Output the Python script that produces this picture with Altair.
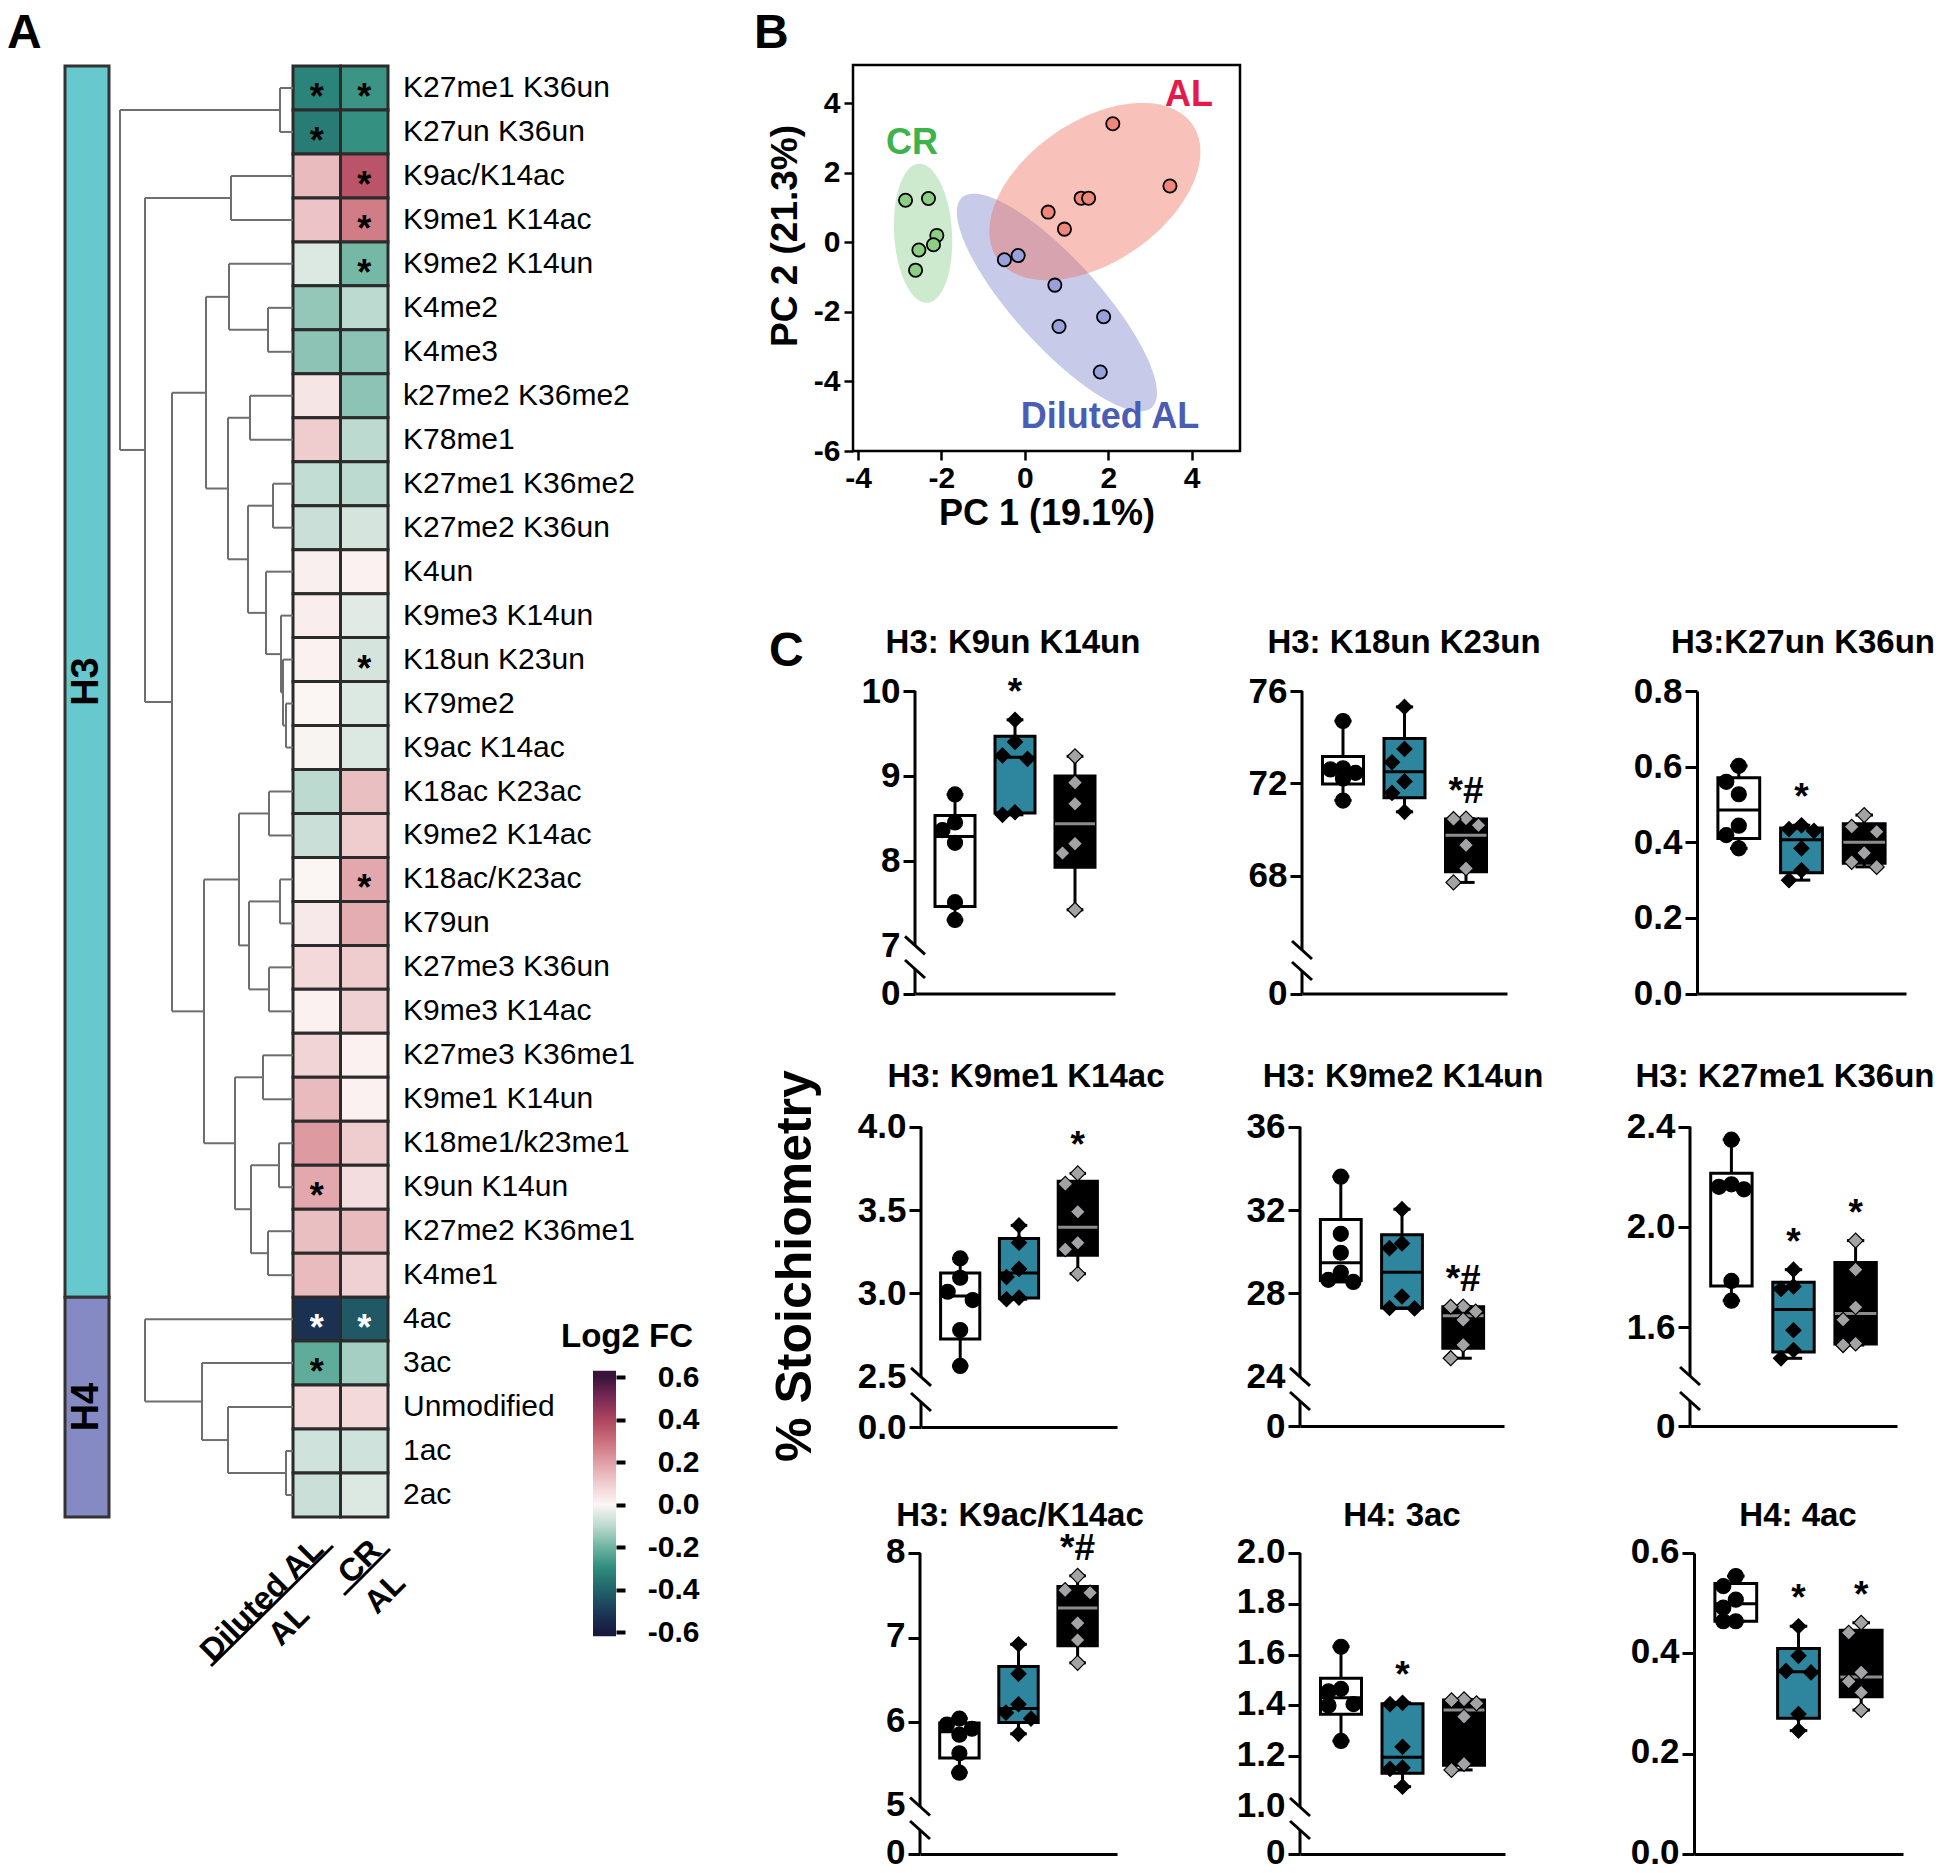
import numpy as np
import pandas as pd
import altair as alt

W, H = 1934, 1857
FONT = "Liberation Sans"


def X(v):
    return v - 8


def Y(v):
    return v - 8


# ======================= DATA =======================
# ---- Panel A: heatmap of log2 fold changes ----
hm_rows = ["K27me1 K36un", "K27un K36un", "K9ac/K14ac", "K9me1 K14ac", "K9me2 K14un", "K4me2",
           "K4me3", "k27me2 K36me2", "K78me1", "K27me1 K36me2", "K27me2 K36un", "K4un",
           "K9me3 K14un", "K18un K23un", "K79me2", "K9ac K14ac", "K18ac K23ac", "K9me2 K14ac",
           "K18ac/K23ac", "K79un", "K27me3 K36un", "K9me3 K14ac", "K27me3 K36me1", "K9me1 K14un",
           "K18me1/k23me1", "K9un K14un", "K27me2 K36me1", "K4me1", "4ac", "3ac", "Unmodified",
           "1ac", "2ac"]
hm_histone = ["H3"] * 28 + ["H4"] * 5
fc_diluted = [-0.32, -0.34, 0.14, 0.12, -0.05, -0.15, -0.16, 0.04, 0.10, -0.09, -0.08, 0.015,
              0.02, 0.01, 0.0, -0.005, -0.10, -0.08, 0.0, 0.03, 0.07, 0.01, 0.08, 0.14, 0.21,
              0.18, 0.13, 0.14, -0.53, -0.22, 0.07, -0.07, -0.08]
fc_cr = [-0.28, -0.29, 0.36, 0.27, -0.19, -0.10, -0.16, -0.16, -0.10, -0.10, -0.06, 0.01,
         -0.04, -0.06, -0.05, -0.05, 0.13, 0.10, 0.18, 0.17, 0.10, 0.09, 0.01, 0.01, 0.10,
         0.06, 0.14, 0.09, -0.43, -0.13, 0.07, -0.07, -0.05]
sig_diluted = [1, 1, 0, 0, 0, 0, 0, 0, 0, 0, 0, 0, 0, 0, 0, 0, 0, 0, 0, 0, 0, 0, 0, 0, 0,
               1, 0, 0, 1, 1, 0, 0, 0]
sig_cr = [1, 0, 1, 1, 1, 0, 0, 0, 0, 0, 0, 0, 0, 1, 0, 0, 0, 0, 1, 0, 0, 0, 0, 0, 0,
          0, 0, 0, 1, 0, 0, 0, 0]
# dendrogram merges: (child a, child b, height); leaves 0..32, new nodes numbered from 33
dendro_merges = [
    (0, 1, 1.3), (2, 3, 6.2), (5, 6, 2.5), (4, 35, 6.4), (7, 8, 4.3), (9, 10, 2.0),
    (14, 15, 0.7), (13, 39, 1.0), (12, 40, 1.2), (11, 41, 2.7), (38, 42, 4.5), (37, 43, 6.5),
    (36, 44, 8.7), (16, 17, 2.4), (18, 19, 1.3), (20, 21, 2.4), (47, 48, 4.4), (46, 49, 5.4),
    (22, 23, 3.0), (24, 25, 1.4), (26, 27, 2.5), (52, 53, 4.2), (51, 54, 5.8), (50, 55, 8.9),
    (45, 56, 12.1), (34, 57, 14.8), (33, 58, 17.3),
    (31, 32, 0.7), (30, 60, 6.5), (29, 61, 9.1), (28, 62, 14.8),
]
fc_stop_v = [-0.6, -0.5, -0.4, -0.3, -0.2, -0.1, 0.0, 0.1, 0.2, 0.3, 0.4, 0.5, 0.6]
fc_stop_c = ["#151a3f", "#1d3b5a", "#21646b", "#2e8c7d", "#6db4a1", "#bcdad0", "#fbf5f4",
             "#efcdcf", "#df9fa5", "#cb6e7b", "#ae445d", "#7a2a55", "#38143a"]
legend_ticks = [0.6, 0.4, 0.2, 0.0, -0.2, -0.4, -0.6]

# ---- Panel B: PCA ----
pca_group = ["CR"] * 6 + ["AL"] * 6 + ["Diluted AL"] * 6
pca_pc1 = [-2.86, -2.31, -2.11, -2.19, -2.54, -2.62,
           2.11, 3.48, 1.35, 1.53, 0.56, 0.95,
           -0.49, -0.16, 0.72, 0.82, 1.89, 1.81]
pca_pc2 = [1.21, 1.26, 0.20, -0.07, -0.22, -0.80,
           3.41, 1.62, 1.27, 1.27, 0.87, 0.38,
           -0.50, -0.38, -1.23, -2.42, -2.14, -3.73]
ell_group = ["Diluted AL", "CR", "AL"]
ell_cx = [0.77, -2.44, 1.68]
ell_cy = [-1.73, 0.26, 1.46]
ell_w = [2.40, 0.70, 2.53]
ell_h = [3.13, 2.00, 2.55]
ell_rho = [-0.83, -0.12, 0.45]

# ---- Panel C: box plots ----
c_groups = ["AL", "Diluted AL", "CR"]
c_titles = ["H3: K9un K14un", "H3: K18un K23un", "H3:K27un K36un",
            "H3: K9me1 K14ac", "H3: K9me2 K14un", "H3: K27me1 K36un",
            "H3: K9ac/K14ac", "H4: 3ac", "H4: 4ac"]
c_al = [[8.78, 8.45, 8.36, 8.21, 7.51, 7.30],
        [74.7, 72.65, 72.6, 72.45, 72.2, 71.25],
        [0.602, 0.560, 0.527, 0.444, 0.419, 0.384],
        [3.21, 3.094, 3.01, 2.96, 2.78, 2.565],
        [33.6, 30.86, 29.95, 29.0, 28.65, 28.55],
        [2.348, 2.17, 2.16, 2.15, 1.784, 1.705],
        [6.04, 5.97, 5.92, 5.85, 5.63, 5.40],
        [1.631, 1.465, 1.455, 1.405, 1.40, 1.26],
        [0.554, 0.534, 0.507, 0.491, 0.464, 0.464]]
c_dil = [[9.66, 9.40, 9.24, 9.20, 8.57, 8.54],
         [75.31, 73.49, 72.91, 72.08, 71.58, 70.76],
         [0.445, 0.435, 0.430, 0.384, 0.326, 0.300],
         [3.408, 3.304, 3.147, 3.098, 2.975, 2.965],
         [32.04, 30.4, 30.17, 27.85, 27.3, 27.28],
         [1.829, 1.762, 1.752, 1.587, 1.508, 1.475],
         [6.92, 6.57, 6.21, 6.11, 6.04, 5.86],
         [1.41, 1.405, 1.237, 1.155, 1.15, 1.08],
         [0.454, 0.395, 0.365, 0.362, 0.279, 0.246]]
c_cr = [[9.23, 8.92, 8.67, 8.20, 8.09, 7.42],
        [70.47, 70.45, 70.18, 69.32, 68.31, 67.70],
        [0.472, 0.441, 0.428, 0.372, 0.348, 0.335],
        [3.72, 3.657, 3.49, 3.304, 3.265, 3.118],
        [27.37, 27.36, 27.13, 26.73, 25.53, 24.89],
        [1.945, 1.829, 1.679, 1.629, 1.534, 1.528],
        [7.73, 7.56, 7.53, 7.17, 6.97, 6.70],
        [1.424, 1.42, 1.408, 1.356, 1.17, 1.146],
        [0.461, 0.441, 0.362, 0.344, 0.322, 0.287]]
c_sig = [["", "*", ""], ["", "", "*#"], ["", "*", ""],
         ["", "", "*"], ["", "", "*#"], ["", "*", "*"],
         ["", "", "*#"], ["", "*", ""], ["", "*", "*"]]
c_yticks = [[8, 9, 10], [68, 72, 76], [0, 0.2, 0.4, 0.6, 0.8],
            [3.0, 3.5, 4.0], [28, 32, 36], [1.6, 2.0, 2.4],
            [6, 7, 8], [1.2, 1.4, 1.6, 1.8, 2.0], [0, 0.2, 0.4, 0.6]]
c_break_label = [7, None, None, 2.5, 24, None, 5, 1.0, None]

# ======================= LAYOUT (pixels of the figure) =======================
C_LAYOUT = [
    dict(ax=915, end=1115, a1=(10, 691), a2=(8, 860.6), pz=993.6, brk=(945.4, 969), fmt="d", zero="0", tx=1013, ty=643),
    dict(ax=1302, end=1507, a1=(76, 691), a2=(68, 875.5), pz=993.6, brk=(950, 971), fmt="d", zero="0", tx=1404, ty=643),
    dict(ax=1697, end=1906, a1=(0.8, 691), a2=(0.0, 993.6), pz=993.6, brk=None, fmt=".1f", zero="0.0", tx=1803, ty=643),
    dict(ax=921, end=1117, a1=(4.0, 1126.7), a2=(3.0, 1293.4), pz=1427, brk=(1376.8, 1402), fmt=".1f", zero="0.0", tx=1026, ty=1077),
    dict(ax=1300, end=1504, a1=(36, 1126.7), a2=(28, 1293.4), pz=1426, brk=(1376.8, 1401), fmt="d", zero="0", tx=1403, ty=1077),
    dict(ax=1690, end=1897, a1=(2.4, 1126.7), a2=(1.6, 1327), pz=1426, brk=(1376, 1401), fmt=".1f", zero="0", tx=1785, ty=1077),
    dict(ax=920, end=1117, a1=(8, 1553), a2=(6, 1722), pz=1854, brk=(1806.5, 1830), fmt="d", zero="0", tx=1020, ty=1516),
    dict(ax=1300, end=1505, a1=(2.0, 1553), a2=(1.0, 1807), pz=1854, brk=(1807, 1830), fmt=".1f", zero="0", tx=1402, ty=1516),
    dict(ax=1694, end=1903, a1=(0.6, 1553), a2=(0.0, 1854), pz=1854, brk=None, fmt=".1f", zero="0.0", tx=1798, ty=1516),
]

layers = []


def text_layer(s, x, y, size, weight="bold", angle=0, color="black", align="center", baseline="middle"):
    return alt.Chart(pd.DataFrame({"t": [s]})).mark_text(
        font=FONT, fontSize=size, fontWeight=weight, angle=angle, color=color,
        align=align, baseline=baseline
    ).encode(x=alt.value(X(x)), y=alt.value(Y(y)), text="t:N")


def seg(x1, y1, x2, y2, color="black", width=3):
    return alt.Chart(pd.DataFrame({"a": [0]})).mark_rule(
        color=color, strokeWidth=width, strokeCap="butt"
    ).encode(x=alt.value(X(x1)), y=alt.value(Y(y1)), x2=alt.value(X(x2)), y2=alt.value(Y(y2)))


# ======================= PANEL A =======================
n = len(hm_rows)
rowscale = alt.Scale(domain=[0, n], range=[Y(66), Y(1517)], nice=False, zero=False)
colscale = alt.Scale(domain=[0, 2], range=[X(293), X(388)], nice=False, zero=False)
fcscale = alt.Scale(domain=fc_stop_v, range=fc_stop_c, interpolate="rgb")

recs = []
for i, name in enumerate(hm_rows):
    for j, (vals, sigs) in enumerate([(fc_diluted, sig_diluted), (fc_cr, sig_cr)]):
        recs.append(dict(row=name, r0=i, r1=i + 1, rc=i + 0.5, c0=j, c1=j + 1, cc=j + 0.5,
                         fc=vals[i], sig=sigs[i]))
hm = pd.DataFrame(recs)
rows_df = pd.DataFrame({"row": hm_rows, "rc": [i + 0.5 for i in range(n)]})

layers.append(alt.Chart(hm).mark_rect(stroke="#2b2b2b", strokeWidth=3).encode(
    x=alt.X("c0:Q", scale=colscale, axis=None), x2="c1:Q",
    y=alt.Y("r0:Q", scale=rowscale, axis=None), y2="r1:Q",
    color=alt.Color("fc:Q", scale=fcscale, legend=None)))
layers.append(alt.Chart(hm).transform_filter("datum.sig == 1").mark_text(
    text="*", font=FONT, fontSize=36, fontWeight="bold", dy=10
).encode(
    x=alt.X("cc:Q", scale=colscale, axis=None), y=alt.Y("rc:Q", scale=rowscale, axis=None),
    color=alt.condition("datum.fc < -0.4", alt.value("white"), alt.value("black"))))
layers.append(alt.Chart(rows_df).mark_text(align="left", baseline="middle", font=FONT, fontSize=30,
                                           color="black").encode(
    x=alt.value(X(403)), y=alt.Y("rc:Q", scale=rowscale, axis=None), text="row:N"))

# side bar
grp_names = []
for g in hm_histone:
    if g not in grp_names:
        grp_names.append(g)
side_df = pd.DataFrame({
    "g": grp_names,
    "r0": [hm_histone.index(g) for g in grp_names],
    "r1": [len(hm_histone) - hm_histone[::-1].index(g) for g in grp_names],
})
side_df["rc"] = (side_df["r0"] + side_df["r1"]) / 2
layers.append(alt.Chart(side_df).mark_rect(stroke="#333333", strokeWidth=3).encode(
    x=alt.value(X(65)), x2=alt.value(X(109)),
    y=alt.Y("r0:Q", scale=rowscale, axis=None), y2="r1:Q",
    color=alt.Color("g:N", scale=alt.Scale(domain=["H3", "H4"], range=["#67c8cd", "#8589c4"]), legend=None)))
layers.append(alt.Chart(side_df).mark_text(angle=270, font=FONT, fontSize=38, fontWeight="bold",
                                           color="black").encode(
    x=alt.value(X(87)), y=alt.Y("rc:Q", scale=rowscale, axis=None), text="g:N"))

# dendrogram
node_y = {i: i + 0.5 for i in range(n)}
node_h = {i: 0.0 for i in range(n)}
segs = []
nid = n
for a, b, h in dendro_merges:
    ya, yb = node_y[a], node_y[b]
    segs.append((node_h[a], h, ya, ya))
    segs.append((node_h[b], h, yb, yb))
    segs.append((h, h, ya, yb))
    node_y[nid] = (ya + yb) / 2
    node_h[nid] = h
    nid += 1
seg_df = pd.DataFrame(segs, columns=["h0", "h1", "y0", "y1"])
layers.append(alt.Chart(seg_df).mark_rule(color="#6e6e6e", strokeWidth=2).encode(
    x=alt.X("h0:Q", scale=alt.Scale(domain=[0, 17.2], range=[X(293), X(121)], nice=False, zero=False), axis=None),
    x2="h1:Q",
    y=alt.Y("y0:Q", scale=rowscale, axis=None), y2="y1:Q"))

# colour legend
lg_scale = alt.Scale(domain=[-0.6, 0.6], range=[Y(1632), Y(1377)], nice=False, zero=False)
g_lo, g_hi = -0.62, 0.63
grad = {"gradient": "linear", "x1": 0, "y1": 1, "x2": 0, "y2": 0,
        "stops": [{"offset": (v - g_lo) / (g_hi - g_lo), "color": c} for v, c in zip(fc_stop_v, fc_stop_c)]}
lg_df = pd.DataFrame({"lo": [g_lo], "hi": [g_hi]})
layers.append(alt.Chart(lg_df).mark_rect(fill=grad).encode(
    x=alt.value(X(593)), x2=alt.value(X(616)),
    y=alt.Y("lo:Q", scale=lg_scale, axis=alt.Axis(
        orient="right", offset=X(616) - W, values=legend_ticks,
        labelExpr="replace(format(datum.value, '.1f'), '\u2212', '-')",
        tickSize=9, tickWidth=4, tickColor="black", domain=False, grid=False, title=None,
        labelAlign="right", labelPadding=74, labelFont=FONT, labelFontSize=30,
        labelFontWeight="bold", labelColor="black", labelBaseline="middle")),
    y2="hi:Q"))
layers.append(text_layer("Log2 FC", 627, 1337, 33))

# column labels (fractions)
layers.append(text_layer("Diluted AL", 262, 1600, 32, angle=315))
layers.append(text_layer("AL", 289, 1625, 32, angle=315))
layers.append(seg(211, 1666, 333, 1546, width=3))
layers.append(text_layer("CR", 360, 1562, 32, angle=315))
layers.append(text_layer("AL", 385, 1593, 32, angle=315))
layers.append(seg(344, 1595, 390, 1549, width=3))

# panel letters
layers.append(text_layer("A", 7, 10, 48, align="left", baseline="top"))
layers.append(text_layer("B", 754, 10, 48, align="left", baseline="top"))
layers.append(text_layer("C", 769, 628, 48, align="left", baseline="top"))

# ======================= PANEL B =======================
bx = alt.Scale(domain=[-4.12, 5.16], range=[X(853), X(1240)], nice=False, zero=False)
by = alt.Scale(domain=[-6.0, 5.1], range=[Y(451), Y(65)], nice=False, zero=False)
ell_fill = {"CR": ("#5cb85c", 0.30), "AL": ("#ee6655", 0.40), "Diluted AL": ("#5560bb", 0.33)}
t = np.linspace(0, np.pi, 91)
for g, cx, cy, w, h, r in zip(ell_group, ell_cx, ell_cy, ell_w, ell_h, ell_rho):
    s = np.sqrt(1 - r * r)
    edf = pd.DataFrame({
        "x": cx + w * np.cos(t),
        "ya": cy + h * (r * np.cos(t) + s * np.sin(t)),
        "yb": cy + h * (r * np.cos(t) - s * np.sin(t)),
    })
    col, op = ell_fill[g]
    layers.append(alt.Chart(edf).mark_area(color=col, opacity=op, strokeWidth=0).encode(
        x=alt.X("x:Q", scale=bx, axis=None), y=alt.Y("ya:Q", scale=by, axis=None), y2="yb:Q"))
pca_df = pd.DataFrame({"g": pca_group, "pc1": pca_pc1, "pc2": pca_pc2})
layers.append(alt.Chart(pca_df).mark_circle(size=175, opacity=1, stroke="black", strokeWidth=1.8).encode(
    x=alt.X("pc1:Q", scale=bx, axis=alt.Axis(
        orient="bottom", offset=Y(451) - H, values=[-4, -2, 0, 2, 4], labelExpr="'' + datum.value",
        tickSize=9, tickWidth=2.5, tickColor="black", domain=False, grid=False, title=None,
        labelFont=FONT, labelFontSize=30, labelFontWeight="bold", labelColor="black", labelPadding=3)),
    y=alt.Y("pc2:Q", scale=by, axis=alt.Axis(
        orient="left", offset=-X(853), values=[-6, -4, -2, 0, 2, 4], labelExpr="'' + datum.value",
        tickSize=9, tickWidth=2.5, tickColor="black", domain=False, grid=False, title=None,
        labelFont=FONT, labelFontSize=30, labelFontWeight="bold", labelColor="black", labelPadding=4,
        labelBaseline="middle")),
    color=alt.Color("g:N", scale=alt.Scale(domain=["CR", "AL", "Diluted AL"],
                                           range=["#8ccf84", "#f0877b", "#9aa0dc"]), legend=None)))
layers.append(alt.Chart(pd.DataFrame({"a": [0]})).mark_rect(fillOpacity=0, stroke="black", strokeWidth=2.5).encode(
    x=alt.value(X(853)), x2=alt.value(X(1240)), y=alt.value(Y(65)), y2=alt.value(Y(451))))
layers.append(text_layer("CR", 912, 143, 36, color="#3db34a"))
layers.append(text_layer("AL", 1189, 95, 36, color="#e6194b"))
layers.append(text_layer("Diluted AL", 1110, 417, 36, color="#4a5db5"))
layers.append(text_layer("PC 1 (19.1%)", 1047, 514, 36))
layers.append(text_layer("PC 2 (21.3%)", 786, 236, 37, angle=270))

# ======================= PANEL C =======================


def swarm(vals, ppu, upx, diam=17.0, step=12.5):
    order = sorted(range(len(vals)), key=lambda i: -vals[i])
    placed = []
    offs = [0.0] * len(vals)
    for i in order:
        yp = vals[i] * ppu
        best, bestd = 0.0, -1.0
        for c in (0.0, -step, step):
            d = min([np.hypot(c - xo, yp - yo) for xo, yo in placed] + [1e9])
            if d >= diam * 0.95:
                best, bestd = c, d
                break
            if d > bestd:
                best, bestd = c, d
        placed.append((best, yp))
        offs[i] = best * upx
    return offs


for k in range(9):
    L = C_LAYOUT[k]
    (v1, p1), (v2, p2) = L["a1"], L["a2"]
    ppu = (p2 - p1) / (v1 - v2)
    pz = L["pz"]
    vz = 0.0 if L["brk"] is None else v1 - (pz - p1) / ppu
    ys = alt.Scale(domain=[vz, v1], range=[Y(pz), Y(p1)], nice=False, zero=False)
    xs = alt.Scale(domain=[1 / 3, 11 / 3], range=[X(L["ax"]), X(L["end"])], nice=False, zero=False)
    upx = (10 / 3) / (L["end"] - L["ax"])
    hw, cw = 1 / 3, 0.14

    stat_rows, pt_rows, wh_rows, cap_rows = [], [], [], []
    for gi, (g, vals) in enumerate(zip(c_groups, [c_al[k], c_dil[k], c_cr[k]])):
        gx = gi + 1
        arr = np.array(vals)
        q1, med, q3 = np.percentile(arr, [25, 50, 75], method="weibull")
        lo, hi = arr.min(), arr.max()
        stat_rows.append(dict(grp=g, g=gx, xl=gx - hw, xr=gx + hw, q1=q1, med=med, q3=q3, lo=lo, hi=hi,
                              sig=c_sig[k][gi]))
        wh_rows += [dict(g=gx, ya=lo, yb=q1), dict(g=gx, ya=q3, yb=hi)]
        cap_rows += [dict(xa=gx - cw, xb=gx + cw, y=lo), dict(xa=gx - cw, xb=gx + cw, y=hi)]
        offs = swarm(vals, ppu, upx)
        for v, o in zip(vals, offs):
            pt_rows.append(dict(grp=g, xp=gx + o, v=v))
    sdf = pd.DataFrame(stat_rows)
    pdf = pd.DataFrame(pt_rows)
    wdf = pd.DataFrame(wh_rows)
    cdf = pd.DataFrame(cap_rows)

    blab = c_break_label[k]
    if L["brk"] is None:
        yvals = list(c_yticks[k])
        lexpr = f"format(datum.value, '{L['fmt']}')"
        tick_op = 1
    else:
        yvals = [vz] + ([blab] if blab is not None else []) + list(c_yticks[k])
        lexpr = f"datum.value < {vz + 1e-6} ? '{L['zero']}' : format(datum.value, '{L['fmt']}')"
        if blab is not None:
            tick_op = {"condition": {"test": f"abs(datum.value - {blab}) < 1e-6", "value": 0}, "value": 1}
        else:
            tick_op = 1
    yaxis = alt.Axis(orient="left", offset=-X(L["ax"]), values=yvals, labelExpr=lexpr,
                     tickSize=12, tickWidth=3, tickColor="black", tickOpacity=tick_op,
                     domain=L["brk"] is None, domainWidth=3, domainColor="black", grid=False, title=None,
                     labelFont=FONT, labelFontSize=35, labelFontWeight="bold", labelColor="black",
                     labelPadding=3, labelBaseline="middle", labelOffset=-2 if k >= 6 else 0)
    xaxis = alt.Axis(orient="bottom", offset=Y(pz) - H, domain=True, domainWidth=3, domainColor="black",
                     ticks=False, labels=False, grid=False, title=None)

    layers.append(alt.Chart(sdf).mark_rect(stroke="black", strokeWidth=3).encode(
        x=alt.X("xl:Q", scale=xs, axis=xaxis), x2="xr:Q",
        y=alt.Y("q1:Q", scale=ys, axis=yaxis), y2="q3:Q",
        color=alt.Color("grp:N", scale=alt.Scale(domain=c_groups, range=["white", "#2e869e", "black"]),
                        legend=None)))
    layers.append(alt.Chart(wdf).mark_rule(color="black", strokeWidth=3).encode(
        x=alt.X("g:Q", scale=xs, axis=None), y=alt.Y("ya:Q", scale=ys, axis=None), y2="yb:Q"))
    layers.append(alt.Chart(cdf).mark_rule(color="black", strokeWidth=3).encode(
        x=alt.X("xa:Q", scale=xs, axis=None), x2="xb:Q", y=alt.Y("y:Q", scale=ys, axis=None)))
    layers.append(alt.Chart(sdf).mark_rule(strokeWidth=3).encode(
        x=alt.X("xl:Q", scale=xs, axis=None), x2="xr:Q", y=alt.Y("med:Q", scale=ys, axis=None),
        color=alt.condition("datum.grp == 'CR'", alt.value("#8c8c8c"), alt.value("black"))))
    layers.append(alt.Chart(pdf).mark_point(filled=True, size=225, opacity=1, stroke="black",
                                            strokeWidth=1.2).encode(
        x=alt.X("xp:Q", scale=xs, axis=None), y=alt.Y("v:Q", scale=ys, axis=None),
        shape=alt.Shape("grp:N", scale=alt.Scale(domain=c_groups, range=["circle", "diamond", "diamond"]),
                        legend=None),
        fill=alt.Fill("grp:N", scale=alt.Scale(domain=c_groups, range=["black", "black", "#a3a3a5"]),
                      legend=None)))
    layers.append(alt.Chart(sdf).transform_filter("datum.sig != ''").mark_text(
        font=FONT, fontSize=37, fontWeight="bold", baseline="alphabetic", dy=-16, color="black"
    ).encode(x=alt.X("g:Q", scale=xs, axis=None), y=alt.Y("hi:Q", scale=ys, axis=None), text="sig:N"))

    layers.append(text_layer(c_titles[k], L["tx"], L["ty"], 33))
    if L["brk"] is not None:
        b1, b2 = L["brk"]
        ax = L["ax"]
        layers.append(seg(ax, p1, ax, b1))
        layers.append(seg(ax, b2, ax, pz))
        layers.append(seg(ax - 10, b1 - 9, ax + 10, b1 + 9))
        layers.append(seg(ax - 10, b2 - 9, ax + 10, b2 + 9))

layers.append(text_layer("% Stoichiometry", 796, 1266, 50, angle=270))

chart = alt.layer(*layers).resolve_scale(
    x="independent", y="independent", color="independent", fill="independent", shape="independent"
).resolve_axis(x="independent", y="independent").properties(
    width=W, height=H, autosize=alt.AutoSizeParams(type="none"), padding=0
).configure(font=FONT, view=alt.ViewConfig(stroke=None))

chart.save("out.html", embed_options={"renderer": "svg", "actions": False})
